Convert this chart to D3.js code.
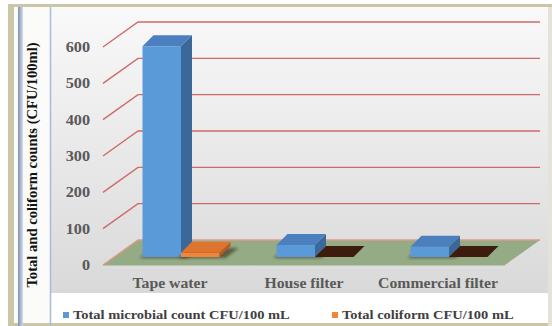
<!DOCTYPE html>
<html>
<head>
<meta charset="utf-8">
<script src="https://cdn.jsdelivr.net/npm/d3@7"></script>
<style>
  html, body { margin: 0; padding: 0; background: #ffffff; }
  svg { display: block; }
  text { font-family: "Liberation Serif", "Times New Roman", serif; font-weight: bold; }
</style>
</head>
<body>
<svg id="chart" width="552" height="326"></svg>
<script>
// ---- data ----
const categories = ["Tape water", "House filter", "Commercial filter"];
const seriesNames = ["Total microbial count CFU/100 mL", "Total coliform CFU/100 mL"];
const microbialCounts = [580, 33, 28];
const coliformCounts = [12, 0, 0];
const tickValues = [0, 100, 200, 300, 400, 500, 600];
const yTitle = "Total and coliform counts (CFU/100ml)";

const seriesValues = [microbialCounts, coliformCounts];
const seriesColors = [
  { front: "#5b9ad8", top: "#4b7fbd", side: "#3c6799" },
  { front: "#f28638", top: "#dd7430", side: "#b85c22" }
];
const zeroTopColor = "#3e1f0e";

const svg = d3.select("#chart");
const defs = svg.append("defs");

// ---- frame ----
const bg = defs.append("linearGradient").attr("id", "plotBg").attr("x1", 0).attr("y1", 0).attr("x2", 0).attr("y2", 1);
bg.append("stop").attr("offset", 0).attr("stop-color", "#f9f9fa");
bg.append("stop").attr("offset", 1).attr("stop-color", "#d9d9d9");

const strip = defs.append("linearGradient").attr("id", "strip").attr("x1", 0).attr("y1", 0).attr("x2", 1).attr("y2", 0);
strip.append("stop").attr("offset", 0).attr("stop-color", "#7f8fb0");
strip.append("stop").attr("offset", 1).attr("stop-color", "#d5ddec");

const blur = defs.append("filter").attr("id", "soft").attr("x", "-30%").attr("y", "-60%").attr("width", "160%").attr("height", "220%");
blur.append("feGaussianBlur").attr("stdDeviation", 1.6);
const blurSmall = defs.append("filter").attr("id", "softer").attr("x", "-10%").attr("y", "-30%").attr("width", "120%").attr("height", "160%");
blurSmall.append("feGaussianBlur").attr("stdDeviation", 0.6);

svg.append("rect").attr("x", 8).attr("y", 4).attr("width", 544).attr("height", 322).attr("fill", "#cbc6a6");
svg.append("rect").attr("x", 548).attr("y", 7).attr("width", 4).attr("height", 319).attr("fill", "#e6e3d6");
svg.append("rect").attr("x", 14).attr("y", 7).attr("width", 534).attr("height", 316).attr("fill", "#fbfbf9");
svg.append("rect").attr("x", 18).attr("y", 7).attr("width", 5).attr("height", 319).attr("fill", "url(#strip)");
svg.append("rect").attr("x", 51).attr("y", 8).attr("width", 497).attr("height", 285).attr("fill", "url(#plotBg)");
svg.append("rect").attr("x", 51).attr("y", 293).attr("width", 497).attr("height", 30).attr("fill", "#ffffff");
svg.append("line").attr("x1", 50.5).attr("x2", 50.5).attr("y1", 7).attr("y2", 326)
  .attr("stroke", "#a8bbd8").attr("stroke-width", 1.5);

// ---- scales ----
const y = d3.scaleLinear().domain([0, 600]).range([265, 47]);
const x = d3.scaleBand().domain(categories).range([103, 505]);

// depth of the floor/back wall, and placement of the bar row inside it
const wallDx = 35, wallDy = -25;
const barDx = 11, barDy = -8;       // bar front plane offset from the floor front
const boxDx = 11, boxDy = -11;      // bar depth
const groupWidth = 77;

// ---- floor ----
const floor = [
  [x.range()[0], y(0)], [x.range()[1], y(0)],
  [x.range()[1] + wallDx, y(0) + wallDy], [x.range()[0] + wallDx, y(0) + wallDy]
];
svg.append("polygon").attr("points", floor.map(p => p.join(",")).join(" "))
  .attr("fill", "#94ab86");
svg.append("line").attr("x1", x.range()[0]).attr("x2", x.range()[1])
  .attr("y1", y(0) + 0.5).attr("y2", y(0) + 0.5).attr("stroke", "#b7c7ad").attr("stroke-width", 1);

// ---- gridlines: diagonal from the tick, then across the back wall ----
const grid = svg.append("g").attr("fill", "none").attr("stroke-width", 1.4);
tickValues.forEach(v => {
  const x0 = x.range()[0], y0 = y(v);
  grid.append("polyline")
    .attr("points", [[x0, y0], [x0 + wallDx, y0 + wallDy], [x.range()[1] + wallDx, y0 + wallDy]].map(p => p.join(",")).join(" "))
    .attr("stroke", v === 0 ? "#e09a86" : "#cf6a6a");
});

// ---- y tick labels ----
svg.append("g").selectAll("text").data(tickValues).join("text")
  .attr("transform", d => `translate(90,${y(d)}) scale(1.12,1)`).attr("dy", "0.35em")
  .attr("text-anchor", "end").attr("font-size", 14.5).attr("fill", "#595959")
  .text(d => d);

// ---- bars ----
const bars = svg.append("g");
const poly = pts => pts.map(p => p.join(",")).join(" ");

categories.forEach((cat, ci) => {
  const cx = x(cat) + x.bandwidth() / 2;
  const sub = d3.scaleBand().domain(seriesNames).range([cx - groupWidth / 2, cx + groupWidth / 2]);
  seriesNames.forEach((s, si) => {
    const v = seriesValues[si][ci];
    const x0 = sub(s) + barDx, x1 = x0 + sub.bandwidth();
    const yb = y(0) + barDy, yt = y(v) + barDy;
    const col = seriesColors[si];
    // soft contact shadow on the floor
    bars.append("polygon")
      .attr("points", poly([[x0 - 3, yb + 1], [x1 + 6, yb + 1], [x1 + boxDx + 8, yb + boxDy + 2], [x0 + boxDx, yb + boxDy + 2]]))
      .attr("fill", "#2a1a10").attr("opacity", v === 0 ? 0 : 0.55).attr("filter", "url(#soft)");
    if (v === 0) {
      bars.append("polygon")
        .attr("points", poly([[x0, yb], [x1, yb], [x1 + boxDx, yb + boxDy], [x0 + boxDx, yb + boxDy]]))
        .attr("fill", zeroTopColor).attr("filter", "url(#softer)");
      return;
    }
    bars.append("rect").attr("x", x0).attr("y", yt).attr("width", x1 - x0).attr("height", yb - yt)
      .attr("fill", col.front);
    bars.append("polygon")
      .attr("points", poly([[x1, yt], [x1 + boxDx, yt + boxDy], [x1 + boxDx, yb + boxDy], [x1, yb]]))
      .attr("fill", col.side);
    bars.append("polygon")
      .attr("points", poly([[x0, yt], [x1, yt], [x1 + boxDx, yt + boxDy], [x0 + boxDx, yt + boxDy]]))
      .attr("fill", col.top);
  });
});

// ---- category labels ----
svg.append("g").selectAll("text").data(categories).join("text")
  .attr("transform", d => `translate(${x(d) + x.bandwidth() / 2},288) scale(1.05,1)`)
  .attr("text-anchor", "middle").attr("font-size", 15).attr("fill", "#595959")
  .text(d => d);

// ---- y axis title ----
svg.append("text")
  .attr("transform", "translate(37,165) rotate(-90)")
  .attr("text-anchor", "middle").attr("font-size", 14.6).attr("fill", "#111111")
  .text(yTitle);

// ---- legend ----
const legendX = [63, 332];
const legend = svg.append("g");
seriesNames.forEach((s, i) => {
  legend.append("rect").attr("x", legendX[i]).attr("y", 312).attr("width", 6).attr("height", 6)
    .attr("fill", seriesColors[i].front);
  legend.append("text").attr("transform", `translate(${legendX[i] + 10},319) scale(1.13,1)`)
    .attr("font-size", 12.8).attr("fill", "#404040").text(s);
});
</script>
</body>
</html>
